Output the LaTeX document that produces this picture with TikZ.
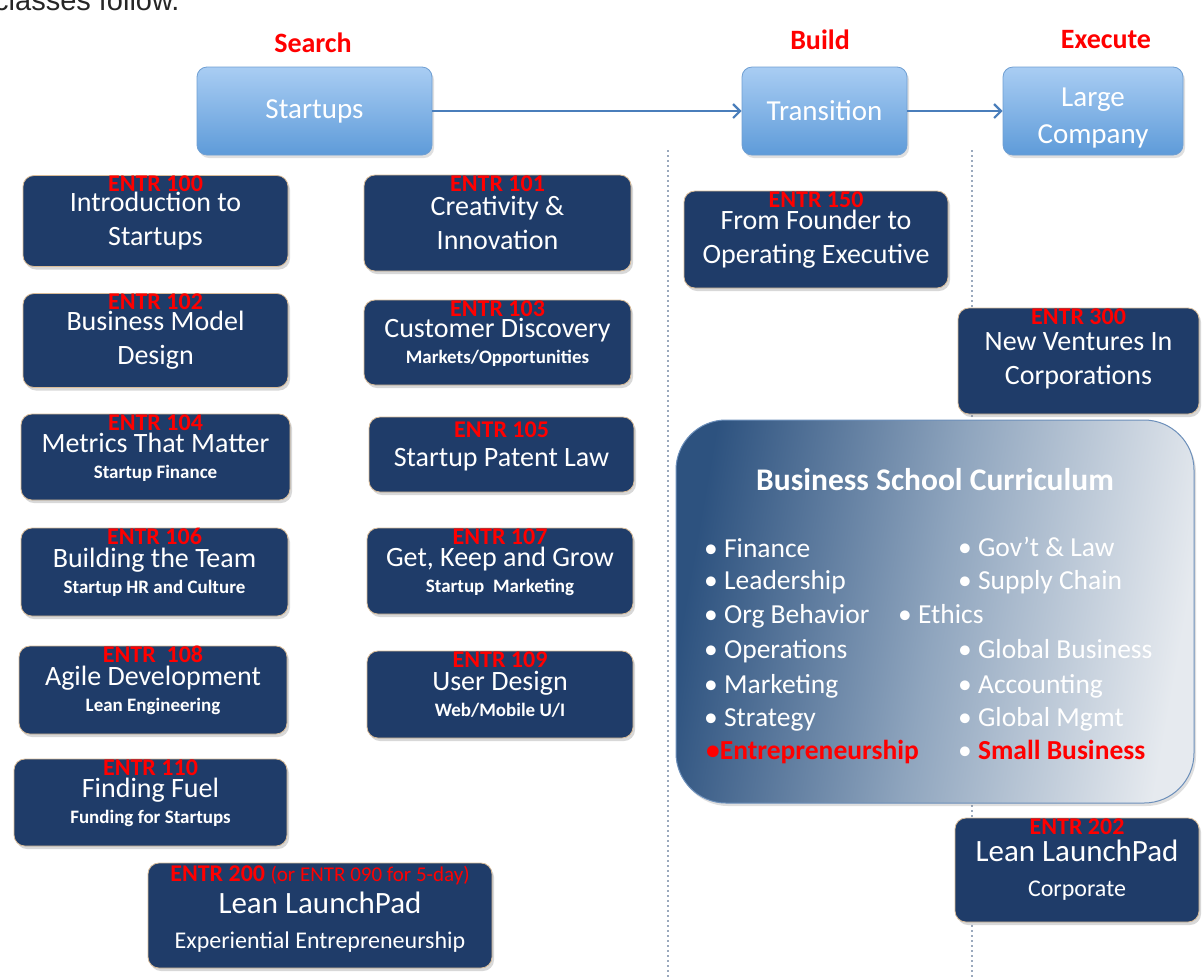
\documentclass[tikz,border=0pt]{standalone}
\usepackage{fontspec}
\setmainfont{Carlito}
\newfontfamily\docfont{Liberation Sans}
\usepackage{xcolor}
\usepackage{tikz}
\usetikzlibrary{arrows.meta,shadows}
\definecolor{crsnavy}{HTML}{1F3C69}
\definecolor{crsedge}{HTML}{D9BC98}
\definecolor{crsred}{HTML}{FF0000}
\definecolor{phtop}{HTML}{A9CDF3}
\definecolor{phbot}{HTML}{5E9BD9}
\definecolor{phedge}{HTML}{6F9FD3}
\definecolor{flowline}{HTML}{4A7EBB}
\definecolor{divdot}{HTML}{9AA9BD}
\definecolor{cbdark}{HTML}{2D527F}
\definecolor{cbmid}{HTML}{8FA5BE}
\definecolor{cbpale}{HTML}{E6EAEF}
\definecolor{cbedge}{HTML}{6C8FBA}
\newcommand{\csub}{\fontsize{19}{22}\selectfont\bfseries}
\newcommand{\cplain}{\fontsize{24}{28}\selectfont}
\newcommand{\cbig}{\fontsize{31}{35}\selectfont}

\begin{document}
\begin{tikzpicture}[
  x=1pt,y=-1pt,
  phase/.style={rounded corners=10pt,top color=phtop,bottom color=phbot,draw=phedge,line width=0.8pt,text=white,align=center,font=\fontsize{29}{37}\selectfont,inner sep=0pt,drop shadow={opacity=0.25,shadow xshift=2pt,shadow yshift=-3pt}},
  stage/.style={text=crsred,font=\fontsize{28}{32}\selectfont\bfseries,inner sep=0pt},
  course/.style={rounded corners=11pt,fill=crsnavy,draw=crsedge,line width=0.8pt,text=white,align=center,font=\fontsize{28}{34}\selectfont,inner sep=0pt,execute at begin node={\rule{0pt}{28pt}},drop shadow={opacity=0.3,shadow xshift=2pt,shadow yshift=-3pt}},
  entr/.style={text=crsred,font=\fontsize{24}{26}\selectfont\bfseries,inner sep=0pt,anchor=center,yshift=-9pt},
  curric/.style={rounded corners=50pt,left color=cbdark,right color=cbpale,middle color=cbmid,shading angle=80,draw=cbedge,line width=1pt,drop shadow={opacity=0.25,shadow xshift=2pt,shadow yshift=-3pt}},
  item/.style={anchor=base west,inner sep=0pt,text=white,font=\fontsize{27.5}{30}\selectfont},
  flow/.style={-{Straight Barb[length=7pt,width=14pt]},line width=2.2pt,color=flowline},
  divider/.style={divdot,line width=2pt,dash pattern=on 2pt off 3pt}
]
  \clip (0,0) rectangle (1204,978);
  \fill[white] (0,0) rectangle (1204,978);
  \node[anchor=base west,inner sep=0pt,font=\docfont\fontsize{29}{32}\selectfont,text=black!85] (caption) at (-6,10) {classes follow.};

  % dividers between the phases
  \coordinate (divAtop) at (668,150);
  \coordinate (divAbot) at (668,978);
  \coordinate (divBtop) at (972,150);
  \coordinate (divBbot) at (972,978);
  \draw[divider] (divAtop) -- (divAbot);
  \draw[divider] (divBtop) -- (divBbot);

  % phases
  \node[phase,minimum width=235,minimum height=88] (startups) at (314.5,111) {Startups};
  \node[phase,minimum width=165,minimum height=88] (transition) at (824.5,111) {Transition};
  \node[phase,minimum width=180,minimum height=88] (large) at (1093,111) {\rule{0pt}{33pt}Large\\Company};
  \node[stage] (search) at (313,43) {Search};
  \node[stage] (build) at (820,40) {Build};
  \node[stage] (execute) at (1106,40) {Execute};
  \draw[flow] (startups) -- (transition);
  \draw[flow] (transition) -- (large);

  % search courses, first column
  \node[course,minimum width=265,minimum height=91,label={[entr]north:ENTR 100}] (intro) at (155.5,221) {Introduction to\\Startups};
  \node[course,minimum width=265,minimum height=94,label={[entr]north:ENTR 102}] (bizmodel) at (155.5,340.5) {Business Model\\Design};
  \node[course,minimum width=269,minimum height=86,label={[entr]north:ENTR 104}] (metrics) at (155.5,457) {Metrics That Matter\\[-8pt]{\csub Startup Finance}};
  \node[course,minimum width=267,minimum height=88,label={[entr]north:ENTR 106}] (team) at (154.5,572) {Building the Team\\[-8pt]{\csub Startup HR and Culture}};
  \node[course,minimum width=268,minimum height=88,label={[entr]north:ENTR\ \ 108}] (agile) at (153,690) {Agile Development\\[-8pt]{\csub Lean Engineering}};
  \node[course,minimum width=273,minimum height=87,label={[entr]north:ENTR 110}] (fuel) at (150.5,802.5) {Finding Fuel\\[-8pt]{\csub Funding for Startups}};
  \node[course,minimum width=344,minimum height=105,font=\cbig,label={[entr,yshift=-4pt]north:ENTR 200 {\fontsize{21}{24}\selectfont\mdseries(or ENTR 090 for 5-day)}}] (launchpad) at (320,915.5) {\rule{0pt}{35pt}Lean LaunchPad\\{\cplain Experiential Entrepreneurship}};

  % search courses, second column
  \node[course,minimum width=267,minimum height=96,label={[entr]north:ENTR 101}] (creative) at (497.5,223) {Creativity \&\\Innovation};
  \node[course,minimum width=267,minimum height=85,label={[entr]north:ENTR 103}] (custdisc) at (497.5,342.5) {Customer Discovery\\[-8pt]{\csub Markets/Opportunities}};
  \node[course,minimum width=265,minimum height=75,label={[entr,yshift=-4pt]north:ENTR 105}] (patent) at (501.5,454.5) {Startup Patent Law};
  \node[course,minimum width=266,minimum height=86,label={[entr]north:ENTR 107}] (getkeep) at (500,571) {Get, Keep and Grow\\[-8pt]{\csub Startup\ \ Marketing}};
  \node[course,minimum width=266,minimum height=87,label={[entr]north:ENTR 109}] (userdesign) at (500,694.5) {User Design\\[-8pt]{\csub Web/Mobile U/I}};

  % build and execute courses
  \node[course,minimum width=264,minimum height=97,label={[entr]north:ENTR 150}] (founder) at (816,239.5) {From Founder to\\Operating Executive};
  \node[course,minimum width=241,minimum height=106,label={[entr]north:ENTR 300}] (ventures) at (1078.5,361) {New Ventures In\\Corporations};
  \node[course,minimum width=244,minimum height=104,font=\cbig,label={[entr]north:ENTR 202}] (corplaunch) at (1077,870) {Lean LaunchPad\\{\cplain Corporate}};

  % business school curriculum
  \node[curric,minimum width=518,minimum height=383] (school) at (935,611.5) {};
  \node[text=white,font=\fontsize{31.5}{34}\selectfont\bfseries,inner sep=0pt] (schooltitle) at (935,480) {Business School Curriculum};
  \node[item] (finance) at (704,557) {• Finance};
  \node[item] (leadership) at (704,589) {• Leadership};
  \node[item] (orgbehav) at (704,623) {• Org Behavior};
  \node[item] (operations) at (704,658) {• Operations};
  \node[item] (marketing) at (704,693) {• Marketing};
  \node[item] (strategy) at (704,726) {• Strategy};
  \node[item,text=crsred,font=\fontsize{27.5}{30}\selectfont\bfseries] (entrep) at (706,759) {•Entrepreneurship};
  \node[item] (ethics) at (898,623) {• Ethics};
  \node[item] (govlaw) at (958,556) {• Gov’t \& Law};
  \node[item] (supply) at (958,589) {• Supply Chain};
  \node[item] (globalbiz) at (958,658) {• Global Business};
  \node[item] (accounting) at (958,693) {• Accounting};
  \node[item] (globalmgmt) at (958,726) {• Global Mgmt};
  \node[item] (smallbiz) at (958,759) {• {\color{crsred}\bfseries Small Business}};
\end{tikzpicture}
\end{document}
